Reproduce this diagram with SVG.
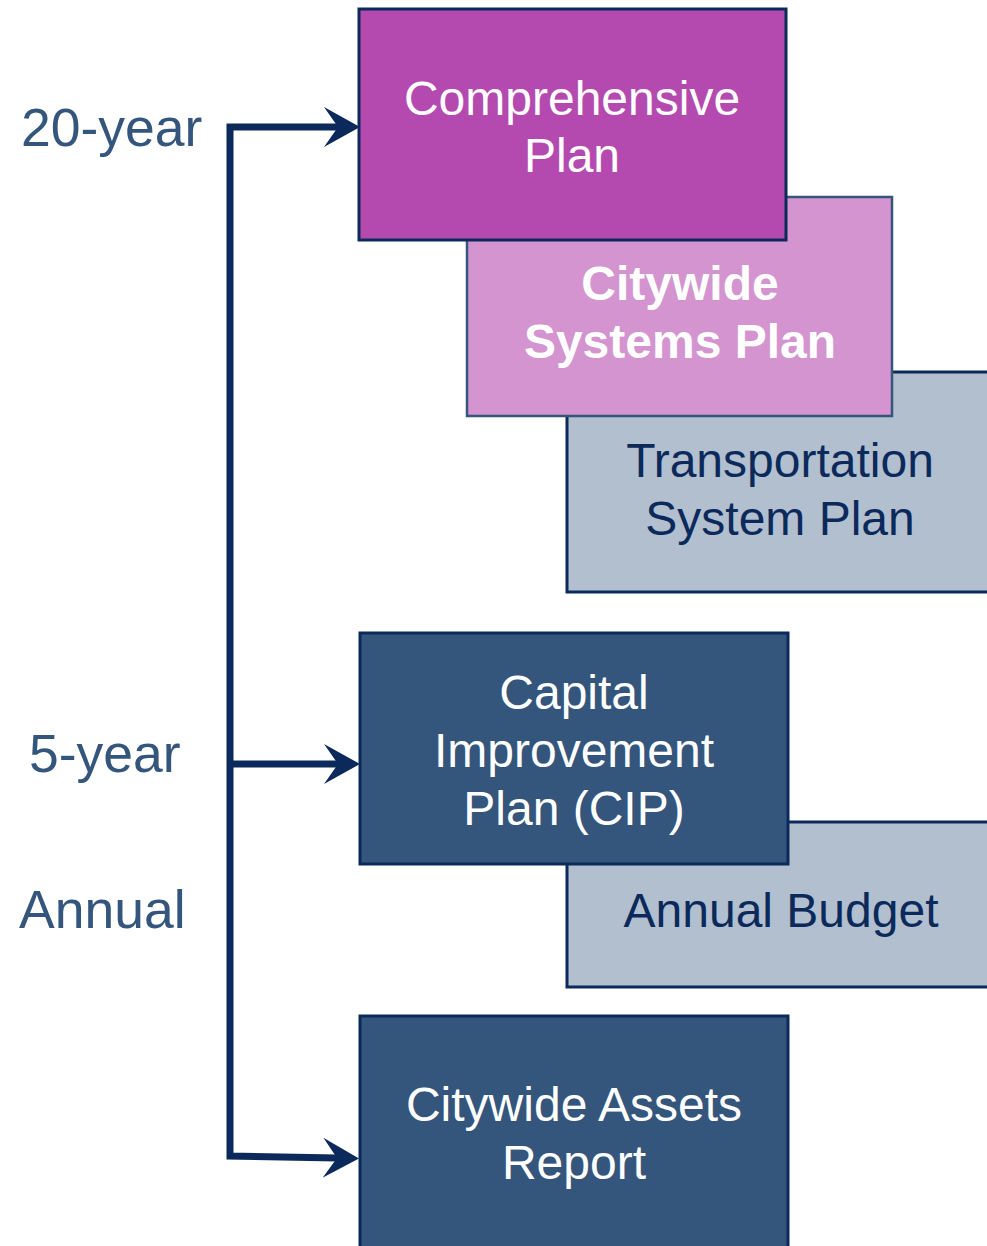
<svg xmlns="http://www.w3.org/2000/svg" width="987" height="1246" viewBox="0 0 987 1246">
<style>
.lbl{font-family:"Liberation Sans",Arial,sans-serif;font-size:53.5px;fill:#34557c}
.t{font-family:"Liberation Sans",Arial,sans-serif;font-size:48px;text-anchor:middle}
.w{fill:#ffffff}
.d{fill:#0b2a5b}
.b{font-weight:bold}
.conn{fill:none;stroke:#0b2a5b;stroke-width:7;stroke-linejoin:miter}
</style>
<defs>
<marker id="arr" viewBox="0 0 36 40" refX="14" refY="20" markerWidth="36" markerHeight="40" markerUnits="userSpaceOnUse" orient="auto-start-reverse">
<path d="M0,0 L36,20 L0,40 L14,20 Z" fill="#0b2a5b"/>
</marker>
</defs>
<rect width="987" height="1246" fill="#ffffff"/>
<g id="labels">
<text class="lbl" x="21" y="146">20-year</text>
<text class="lbl" x="29" y="772">5-year</text>
<text class="lbl" x="19" y="928">Annual</text>
</g>
<g id="connectors">
<path class="conn" d="M338,127 H230 V1156 L337,1158" marker-start="url(#arr)" marker-end="url(#arr)"/>
<path class="conn" d="M230,764 H338" marker-end="url(#arr)"/>
</g>
<g id="transportation">
<rect x="567" y="372" width="428" height="220" fill="#b2bfcf" stroke="#0b2a5b" stroke-width="3"/>
<text class="t d" x="780" y="477">Transportation</text>
<text class="t d" x="780" y="535">System Plan</text>
</g>
<g id="citywide-systems">
<rect x="467" y="197" width="425" height="219" fill="#d394cf" stroke="#34557c" stroke-width="2.5"/>
<text class="t w b" x="680" y="300">Citywide</text>
<text class="t w b" x="680" y="358">Systems Plan</text>
</g>
<g id="comprehensive">
<rect x="359" y="9" width="427" height="231" fill="#b44aaf" stroke="#0b2a5b" stroke-width="3"/>
<text class="t w" x="572" y="115">Comprehensive</text>
<text class="t w" x="572" y="172">Plan</text>
</g>
<g id="annual-budget">
<rect x="567" y="822" width="428" height="165" fill="#b2bfcf" stroke="#0b2a5b" stroke-width="3"/>
<text class="t d" x="781" y="927">Annual Budget</text>
</g>
<g id="cip">
<rect x="360" y="633" width="428" height="231" fill="#34557c" stroke="#0b2a5b" stroke-width="3"/>
<text class="t w" x="574" y="709">Capital</text>
<text class="t w" x="574" y="767">Improvement</text>
<text class="t w" x="574" y="825">Plan (CIP)</text>
</g>
<g id="assets-report">
<rect x="360" y="1016" width="428" height="240" fill="#34557c" stroke="#0b2a5b" stroke-width="3"/>
<text class="t w" x="574" y="1121">Citywide Assets</text>
<text class="t w" x="574" y="1179">Report</text>
</g>
</svg>
